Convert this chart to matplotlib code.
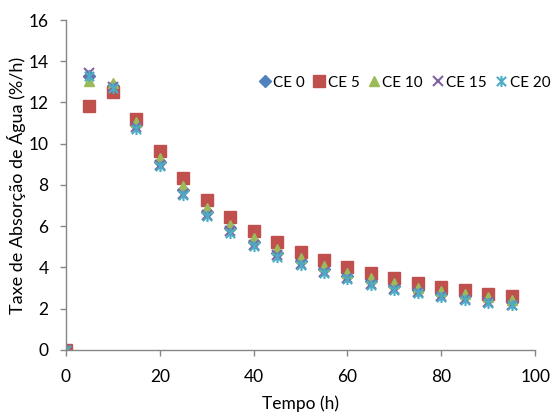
import matplotlib
matplotlib.use("Agg")
import matplotlib.pyplot as plt
from matplotlib.path import Path

plt.rcParams['font.family'] = ['Lato', 'DejaVu Sans']

tempo = [0, 5, 10, 15, 20, 25, 30, 35, 40, 45, 50, 55, 60, 65, 70, 75, 80, 85, 90, 95]
ce0 = [0, 13.3, 12.8, 10.9, 9.1, 7.75, 6.7, 5.9, 5.25, 4.72, 4.3, 3.9, 3.6, 3.32, 3.08, 2.92, 2.72, 2.6, 2.45, 2.33]
ce5 = [0, 11.84, 12.5, 11.2, 9.63, 8.34, 7.28, 6.44, 5.77, 5.21, 4.75, 4.37, 4.02, 3.73, 3.48, 3.24, 3.06, 2.88, 2.72, 2.59]
ce10 = [0, 13.05, 12.95, 11.03, 9.3, 7.96, 6.87, 6.07, 5.42, 4.9, 4.45, 4.08, 3.75, 3.48, 3.24, 3.02, 2.85, 2.7, 2.55, 2.43]
ce15 = [0, 13.45, 12.75, 10.8, 8.95, 7.58, 6.55, 5.75, 5.08, 4.58, 4.18, 3.78, 3.5, 3.2, 2.97, 2.8, 2.6, 2.45, 2.33, 2.2]
ce20 = [0, 13.3, 12.7, 10.7, 8.9, 7.5, 6.47, 5.67, 5.02, 4.51, 4.1, 3.73, 3.44, 3.15, 2.91, 2.77, 2.55, 2.42, 2.27, 2.16]

series = [("CE 0", ce0), ("CE 5", ce5), ("CE 10", ce10), ("CE 15", ce15), ("CE 20", ce20)]
colors = ["#4F81BD", "#C0504D", "#9BBB59", "#8064A2", "#4BACC6"]

star = Path([(-1, -1), (1, 1), (-1, 1), (1, -1), (0, -1.2), (0, 1.2)],
            [Path.MOVETO, Path.LINETO, Path.MOVETO, Path.LINETO, Path.MOVETO, Path.LINETO])
markers = [dict(marker='D', ms=6.5), dict(marker='s', ms=9), dict(marker='^', ms=7.5),
           dict(marker='x', ms=7, mew=1.5), dict(marker=star, ms=8, mew=1.5)]

fig = plt.figure(figsize=(5.54, 4.17), dpi=100)
ax = fig.add_axes([0.119, 0.161, 0.847, 0.791])

for (name, vals), c, m in zip(series, colors, markers):
    ax.plot(tempo, vals, linestyle='none', color=c, mfc=c, mec=c, label=name, **m)

ax.set_xlim(0, 100)
ax.set_ylim(0, 16)
ax.set_xticks(range(0, 101, 20))
ax.set_yticks(range(0, 17, 2))
for s in ['top', 'right']:
    ax.spines[s].set_visible(False)
for s in ['left', 'bottom']:
    ax.spines[s].set_color('#868686')
    ax.spines[s].set_linewidth(1.0)
ax.tick_params(axis='both', color='#868686', length=4.5, width=1, labelsize=12.5, direction='out')
ax.tick_params(axis='x', pad=9)
ax.tick_params(axis='y', pad=8)
ax.set_xlabel("Tempo (h)", fontsize=12.5, labelpad=8)
ax.set_ylabel("Taxe de Absorção de Água (%/h)", fontsize=13, labelpad=2)

ax.legend(loc='center right', bbox_to_anchor=(1.032, 0.81), ncol=5, frameon=False,
          fontsize=11, handletextpad=0.05, columnspacing=0.45, handlelength=1.0,
          borderaxespad=0, borderpad=0)

fig.savefig("out.png", dpi=100)
